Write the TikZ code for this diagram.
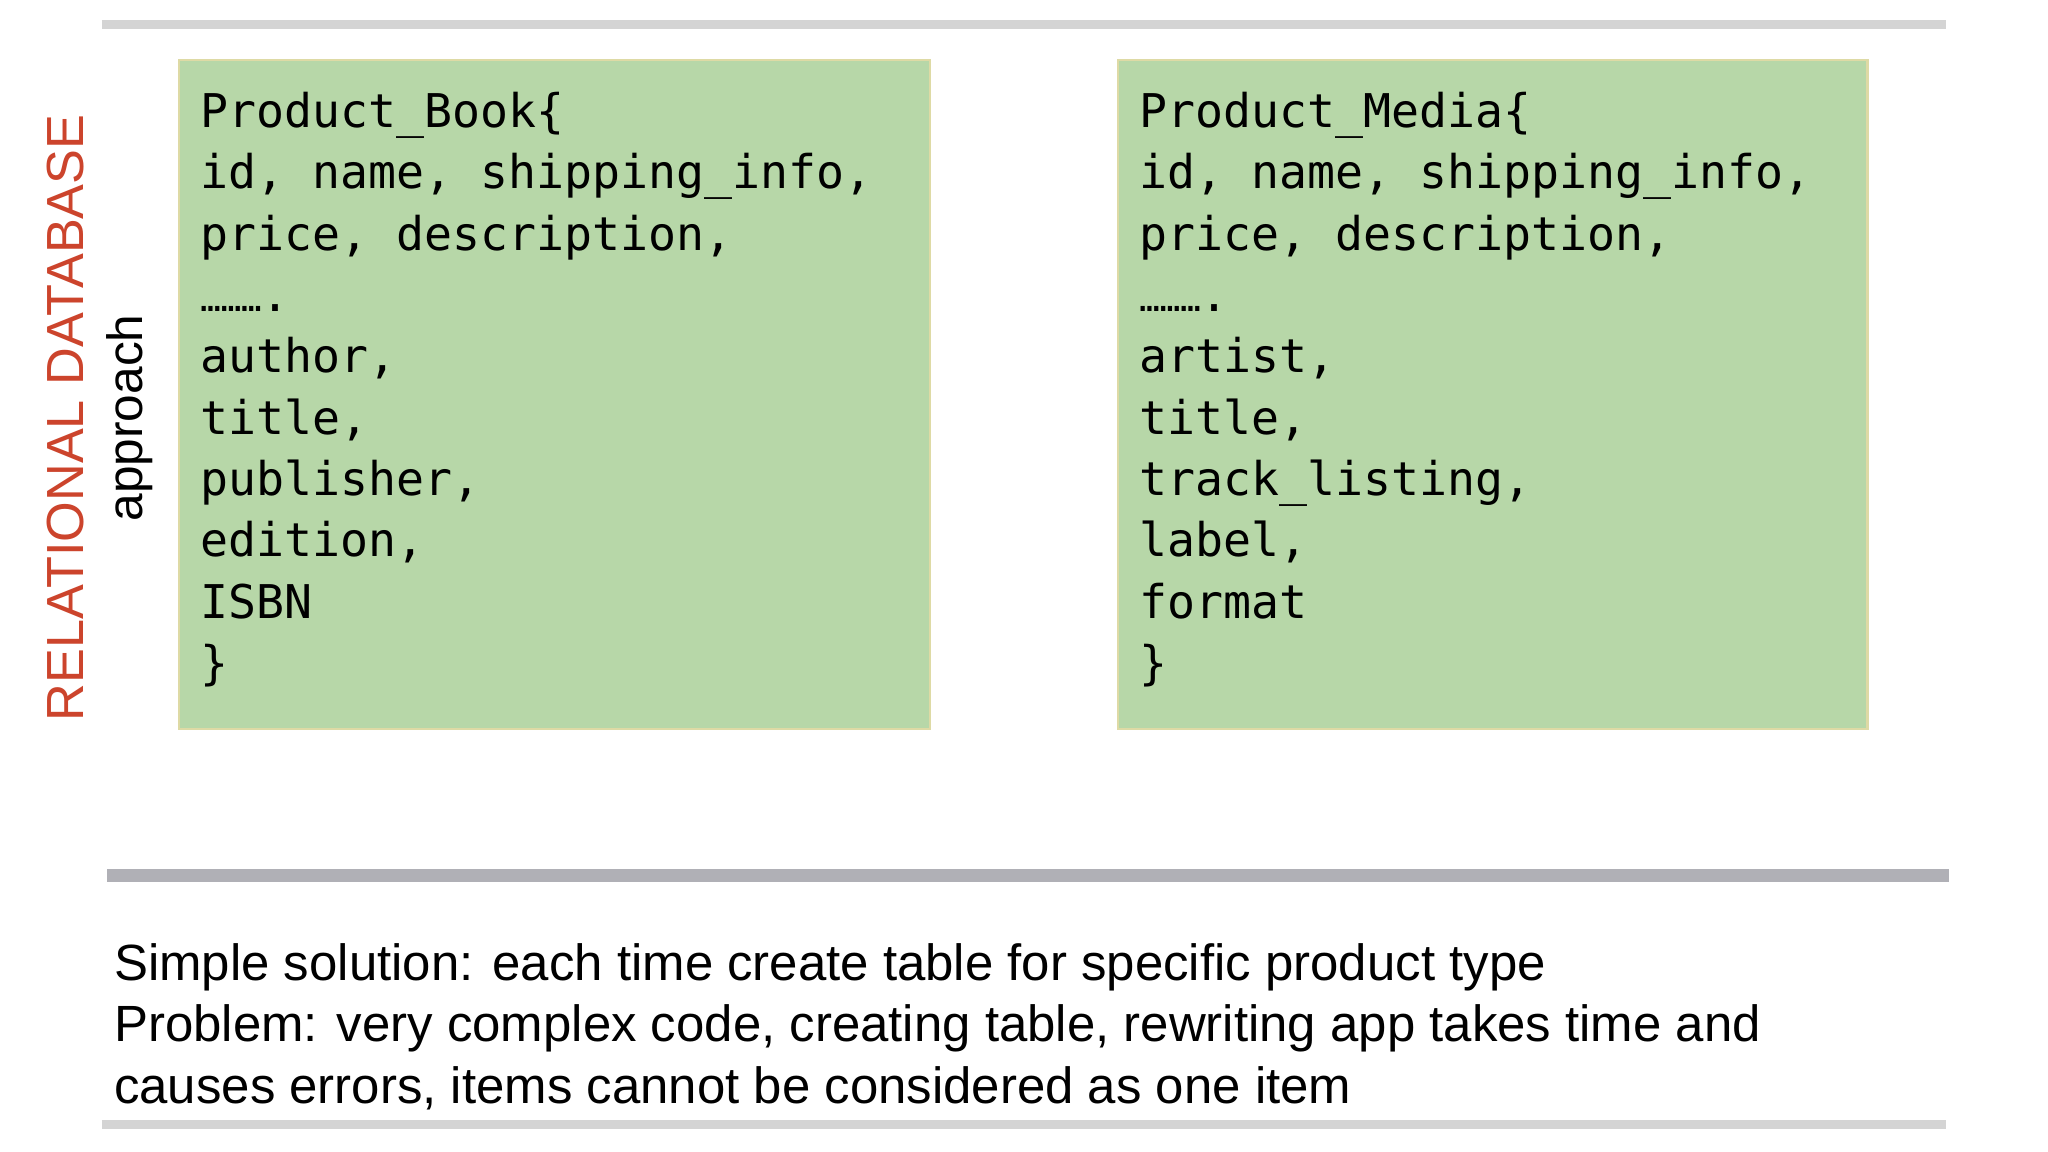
\documentclass[tikz,border=0pt]{standalone}
\usepackage{fontspec}
\setmainfont{Liberation Sans}
\setmonofont{DejaVu Sans Mono}
\begin{document}
\begin{tikzpicture}[x=0.5pt,y=-0.5pt,
  rule/.style={line width=#1, line cap=butt},
  tbox/.style={draw=yellow!30!white!85!black, fill={rgb,255:red,183;green,215;blue,168}, line width=1pt},
  code/.style={anchor=north west, align=left, font=\ttfamily\fontsize{17.8}{23.5}\selectfont, inner sep=0pt},
  body/.style={anchor=north west, align=left, font=\fontsize{19.5}{23.5}\selectfont, inner sep=0pt}]
\useasboundingbox (0,0) rectangle (1568,882);
\fill[white] (0,0) rectangle (1568,882);
\coordinate (t1) at (78,19); \coordinate (t2) at (1490,19);
\coordinate (m1) at (82,670); \coordinate (m2) at (1492,670);
\coordinate (b1) at (78,861); \coordinate (b2) at (1490,861);
\draw[rule=3.5pt, draw={rgb,255:red,212;green,212;blue,212}] (t1) -- (t2);
\draw[rule=5pt, draw={rgb,255:red,176;green,176;blue,182}] (m1) -- (m2);
\draw[rule=3.5pt, draw={rgb,255:red,212;green,212;blue,212}] (b1) -- (b2);
\draw[tbox] (137,46) rectangle (712,558);
\draw[tbox] (856,46) rectangle (1430,558);
\node[code] (book) at (153,70) {Product\_Book\{\\id, name, shipping\_info,\\price, description,\\{\fontsize{13}{23.5}\selectfont ………}.\\author,\\title,\\publisher,\\edition,\\ISBN\\\}};
\node[code] (media) at (872,70) {Product\_Media\{\\id, name, shipping\_info,\\price, description,\\{\fontsize{13}{23.5}\selectfont ………}.\\artist,\\title,\\track\_listing,\\label,\\format\\\}};
\node[rotate=90, font=\fontsize{20}{24}\selectfont, text={rgb,255:red,204;green,68;blue,44}, inner sep=0pt] (rel) at (50,320) {RELATIONAL DATABASE};
\node[rotate=90, font=\fontsize{19}{22}\selectfont, inner sep=0pt] (app) at (99,320) {approach};
\node[body] (txt) at (87,722) {Simple solution: each time create table for specific product type\\Problem: very complex code, creating table, rewriting app takes time and\\causes errors, items cannot be considered as one item};
\end{tikzpicture}
\end{document}
